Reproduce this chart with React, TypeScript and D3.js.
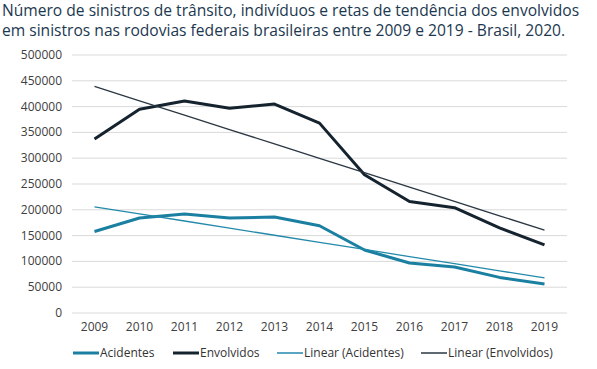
import React from 'react';
import * as d3 from 'd3';

// valores
const anos = ['2009', '2010', '2011', '2012', '2013', '2014', '2015', '2016', '2017', '2018', '2019'];
const acidentes = [158000, 184000, 192000, 184000, 186000, 169000, 122000, 97000, 89000, 69000, 56000];
const envolvidos = [337000, 395000, 411000, 397000, 405000, 368000, 268000, 216000, 204000, 165000, 132000];
const yTicks = [0, 50000, 100000, 150000, 200000, 250000, 300000, 350000, 400000, 450000, 500000];
const titulo = [
  'Número de sinistros de trânsito, indivíduos e retas de tendência dos envolvidos',
  'em sinistros nas rodovias federais brasileiras entre 2009 e 2019 - Brasil, 2020.',
];

const FONT = '"Open Sans", "Noto Sans", sans-serif';
const COR_ACID = '#1a7fa1';
const COR_ENV = '#15232f';
const COR_LIN_ACID = '#2389ab';
const COR_LIN_ENV = '#2a3742';

// reta de tendência (mínimos quadrados), como no Excel
function tendencia(vals: number[]) {
  const n = vals.length;
  const xs = d3.range(n);
  const mx = d3.mean(xs) as number;
  const my = d3.mean(vals) as number;
  const sxy = d3.sum(xs, (x, i) => (x - mx) * (vals[i] - my));
  const sxx = d3.sum(xs, (x) => (x - mx) * (x - mx));
  const b = sxy / sxx;
  return xs.map((x) => my + b * (x - mx));
}

const App = () => {
  const width = 597;
  const height = 369;
  const margin = { top: 55, right: 30, bottom: 56, left: 72 };

  const x = d3.scaleBand().domain(anos).range([margin.left, width - margin.right]);
  const y = d3.scaleLinear().domain([0, 500000]).range([height - margin.bottom, margin.top]);
  const cx = (d: string) => (x(d) as number) + x.bandwidth() / 2;

  const line = d3.line<number>()
    .x((_, i) => cx(anos[i]))
    .y((v) => y(v));

  const series = [
    { nome: 'Acidentes', vals: acidentes, cor: COR_ACID, w: 3 },
    { nome: 'Envolvidos', vals: envolvidos, cor: COR_ENV, w: 3 },
    { nome: 'Linear (Acidentes)', vals: tendencia(acidentes), cor: COR_LIN_ACID, w: 1.3 },
    { nome: 'Linear (Envolvidos)', vals: tendencia(envolvidos), cor: COR_LIN_ENV, w: 1.3 },
  ];
  const legendX = [73, 173, 277, 421];

  return (
    <svg width={width} height={height} style={{ position: 'absolute', left: 0, top: 0, background: '#fff' }}>
      {titulo.map((t, i) => (
        <text key={i} x={2} y={16 + i * 20} fontFamily={FONT} fontSize={15.6} fill="#1c3850">
          {t}
        </text>
      ))}
      {yTicks.map((t) => (
        <g key={t}>
          <line x1={margin.left} x2={width - margin.right} y1={y(t)} y2={y(t)} stroke="#d9d9d9" strokeWidth={1} />
          <text x={62} y={y(t) + 4} textAnchor="end" fontFamily={FONT} fontSize={12} fill="#404040">
            {t}
          </text>
        </g>
      ))}
      {anos.map((a) => (
        <text key={a} x={cx(a)} y={331} textAnchor="middle" fontFamily={FONT} fontSize={12} fill="#404040">
          {a}
        </text>
      ))}
      {series.map((s) => (
        <path key={s.nome} d={line(s.vals) as string} fill="none" stroke={s.cor} strokeWidth={s.w} strokeLinejoin="round" />
      ))}
      {series.map((s, i) => (
        <g key={s.nome} transform={`translate(${legendX[i]},353)`}>
          <line x1={0} x2={26} y1={0} y2={0} stroke={s.cor} strokeWidth={s.w === 3 ? 3 : 1.5} />
          <text x={27} y={4} fontFamily={FONT} fontSize={12} fill="#333">
            {s.nome}
          </text>
        </g>
      ))}
    </svg>
  );
};

export default App;
